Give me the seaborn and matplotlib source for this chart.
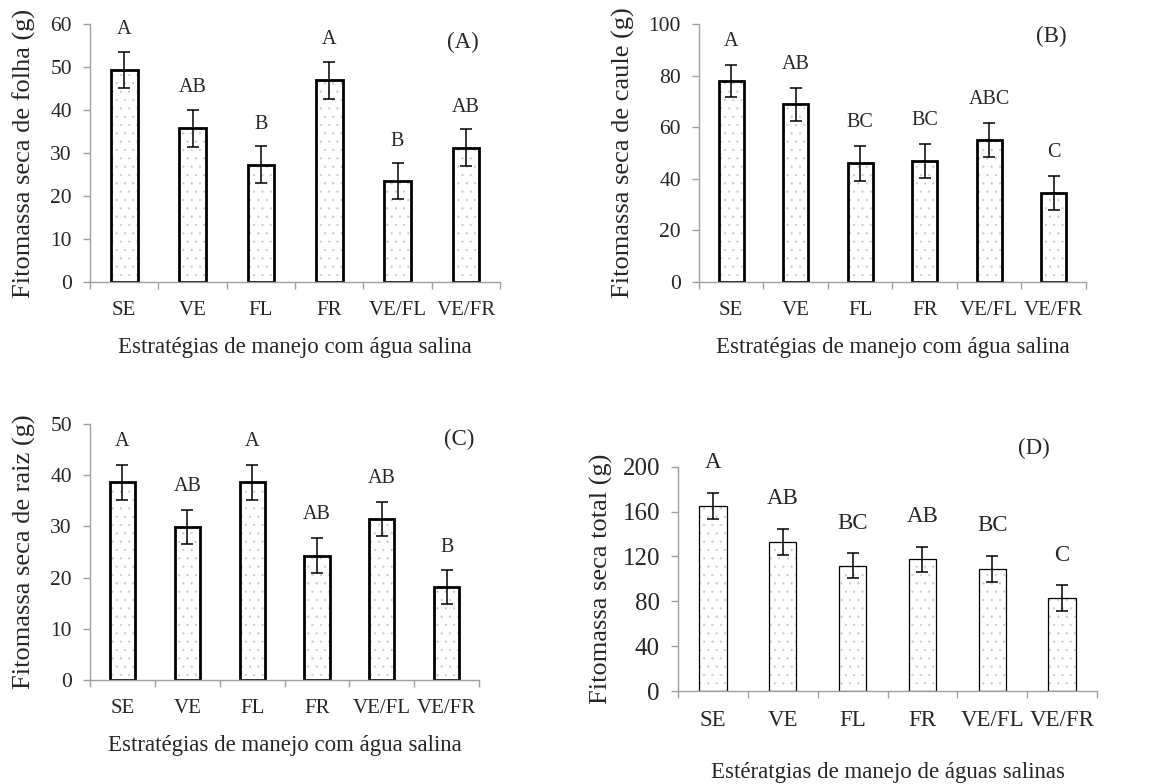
import numpy as np
import pandas as pd
import matplotlib
matplotlib.use("Agg")
import matplotlib.pyplot as plt
import seaborn as sns

sns.set_theme(style="white")
plt.rcParams["font.family"] = ["Liberation Serif", "DejaVu Serif"]
plt.rcParams["hatch.linewidth"] = 0.35

# Estratégias de manejo
estrategias = ["SE", "VE", "FL", "FR", "VE/FL", "VE/FR"]

# (A) folha
folha = [49.3, 35.7, 27.3, 46.9, 23.4, 31.2]
folha_err = [4.3, 4.4, 4.3, 4.3, 4.2, 4.3]
folha_let = ["A", "AB", "B", "A", "B", "AB"]

# (B) caule
caule = [77.9, 68.8, 45.9, 47.0, 54.9, 34.5]
caule_err = [6.1, 6.3, 6.7, 6.6, 6.6, 6.6]
caule_let = ["A", "AB", "BC", "BC", "ABC", "C"]

# (C) raiz
raiz = [38.6, 29.9, 38.6, 24.3, 31.5, 18.1]
raiz_err = [3.4, 3.3, 3.4, 3.4, 3.3, 3.3]
raiz_let = ["A", "AB", "A", "AB", "AB", "B"]

# (D) total
total = [165.2, 133.1, 111.7, 117.4, 109.1, 82.9]
total_err = [11.6, 11.6, 11.1, 11.3, 11.5, 11.6]
total_let = ["A", "AB", "BC", "AB", "BC", "C"]

fig = plt.figure(figsize=(11.5, 7.84), dpi=100)

axA = fig.add_axes([0.0783, 0.6403, 0.3565, 0.3291])
axB = fig.add_axes([0.6078, 0.6407, 0.3365, 0.3287])
axC = fig.add_axes([0.0783, 0.1327, 0.3383, 0.3265])
axD = fig.add_axes([0.5896, 0.1186, 0.3643, 0.2861])

paineis = [
    (axA, folha, folha_err, folha_let, "Fitomassa seca de folha (g)",
     "Estratégias de manejo com água salina", 60, 10, "(A)", (0.91, 0.93), 9),
    (axB, caule, caule_err, caule_let, "Fitomassa seca de caule (g)",
     "Estratégias de manejo com água salina", 100, 20, "(B)", (0.91, 0.95), 10),
    (axC, raiz, raiz_err, raiz_let, "Fitomassa seca de raiz (g)",
     "Estratégias de manejo com água salina", 50, 10, "(C)", (0.95, 0.94), 10),
    (axD, total, total_err, total_let, "Fitomassa seca total (g)",
     "Estératgias de manejo de águas salinas", 200, 40, "(D)", (0.85, 1.08), 14),
]

for ax, vals, errs, lets, ylab, xlab, ymax, ystep, tag, tagpos, off in paineis:
    is_d = ax is axD
    df = pd.DataFrame({"estrategia": estrategias, "valor": vals})
    # preenchimento pontilhado
    sns.barplot(data=df, x="estrategia", y="valor", ax=ax, color="white",
                width=0.39, edgecolor="#c8c8c8", linewidth=0, hatch="..",
                errorbar=None, saturation=1)
    # contorno
    sns.barplot(data=df, x="estrategia", y="valor", ax=ax, fill=False,
                width=0.39, edgecolor="black", linewidth=0.9 if is_d else 2.0,
                errorbar=None)
    pos = np.arange(len(estrategias))
    ax.errorbar(pos, vals, yerr=errs, fmt="none", ecolor="black",
                elinewidth=1.1, capsize=4, capthick=1.1)
    fs_let = 16.5 if is_d else 14.5
    for i, (v, e, l) in enumerate(zip(vals, errs, lets)):
        ax.annotate(l, xy=(i, v + e), xytext=(0, off), textcoords="offset points",
                    ha="center", va="bottom", fontsize=fs_let)

    ax.set_ylim(0, ymax)
    ax.set_yticks(np.arange(0, ymax + 1, ystep))
    ax.set_xlim(-0.5, len(estrategias) - 0.5)
    ax.set_xticks(np.arange(-0.5, len(estrategias)), minor=True)

    for s in ["top", "right"]:
        ax.spines[s].set_visible(False)
    for s in ["left", "bottom"]:
        ax.spines[s].set_color("#a0a0a0")
        ax.spines[s].set_linewidth(1.0)

    ax.tick_params(axis="y", which="major", direction="out", length=5, width=1,
                   color="#a0a0a0", pad=8, labelsize=18 if is_d else 15.5, left=True)
    ax.tick_params(axis="x", which="major", length=0, pad=14,
                   labelsize=16.5 if is_d else 15)
    ax.tick_params(axis="x", which="minor", direction="out", length=5, width=1,
                   color="#a0a0a0", bottom=True)

    ax.set_ylabel(ylab, fontsize=19, labelpad=7 if is_d else 10)
    ax.set_xlabel(xlab, fontsize=16.5, labelpad=22 if is_d else 12)
    ax.grid(False)

    ax.text(tagpos[0], tagpos[1], tag, transform=ax.transAxes, ha="center",
            va="center", fontsize=16.5)

fig.savefig("out.png", dpi=100, facecolor="white")
